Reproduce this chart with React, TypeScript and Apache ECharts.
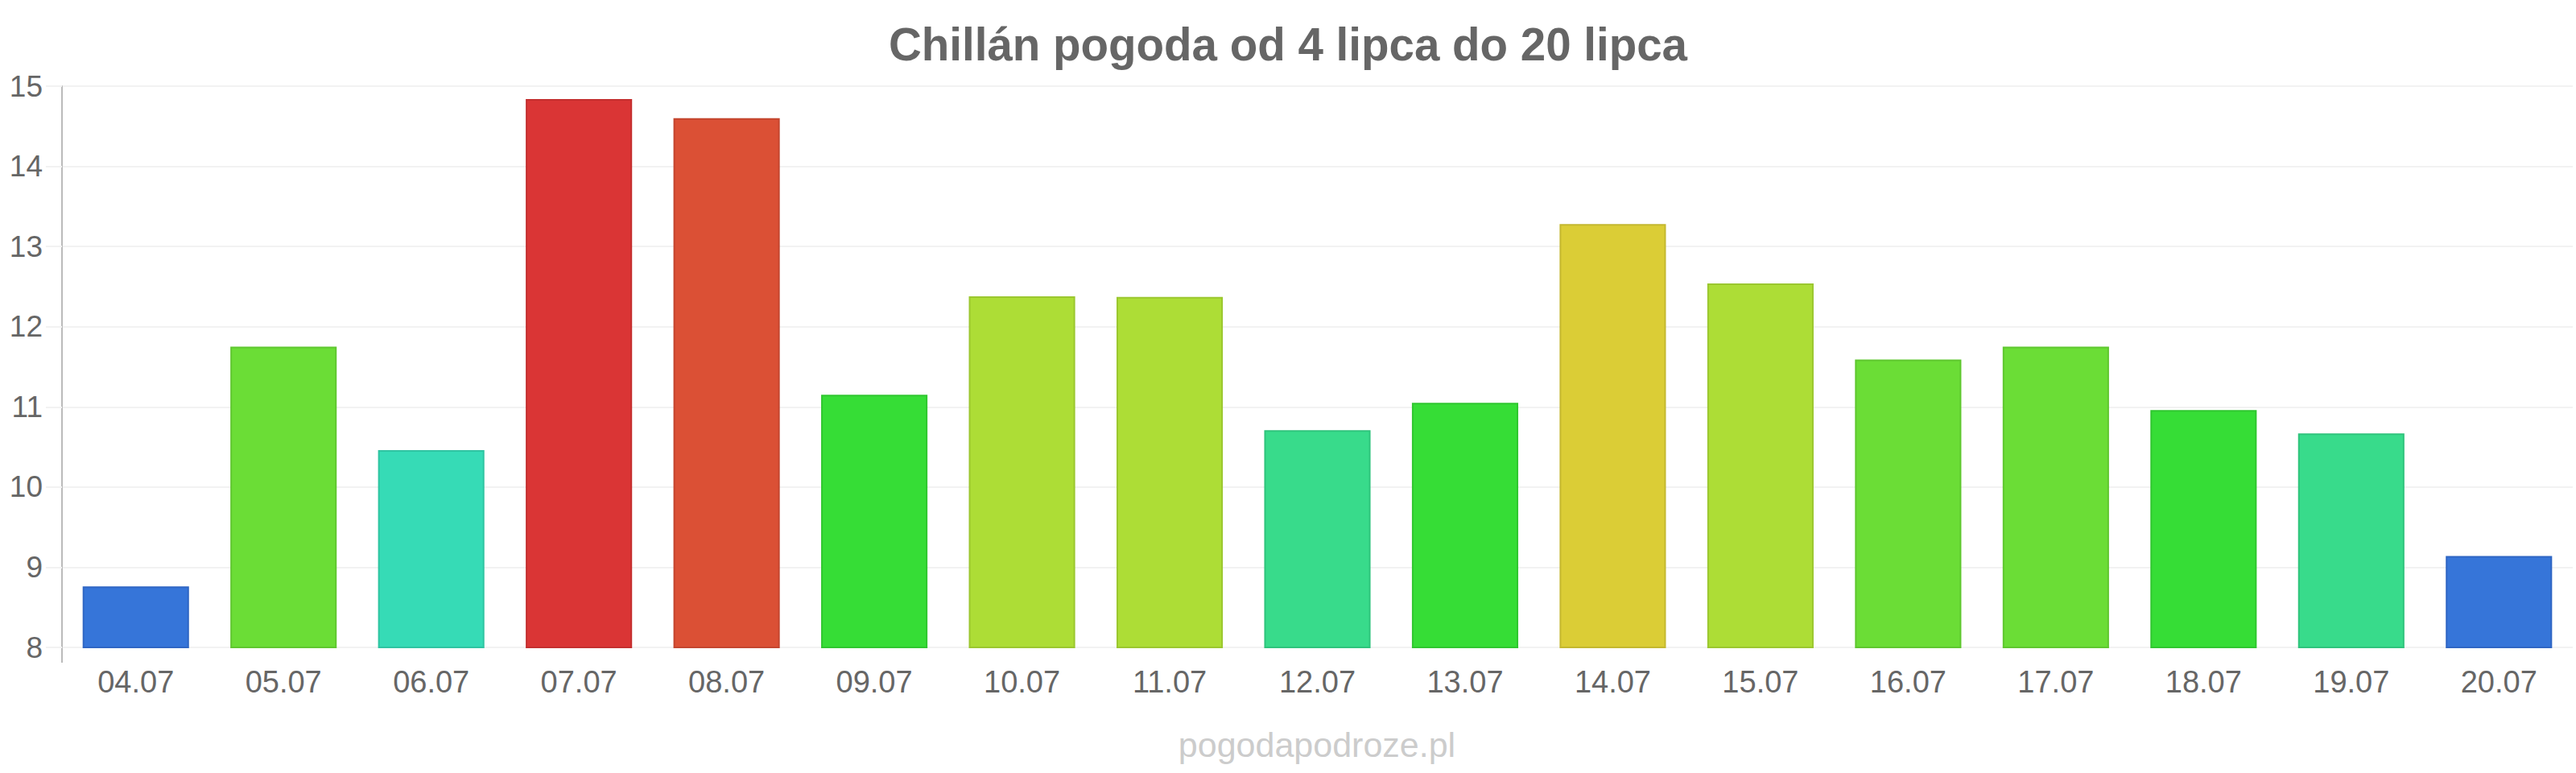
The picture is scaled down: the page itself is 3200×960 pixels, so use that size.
import React, { useEffect, useRef } from "react";
import * as echarts from "echarts";

const categories = ["04.07", "05.07", "06.07", "07.07", "08.07", "09.07", "10.07", "11.07", "12.07", "13.07", "14.07", "15.07", "16.07", "17.07", "18.07", "19.07", "20.07"];
const temperatures = [8.76, 11.75, 10.46, 14.84, 14.6, 11.15, 12.38, 12.37, 10.71, 11.05, 13.28, 12.54, 11.59, 11.75, 10.96, 10.67, 9.14];
const barColors = ["#3675d9", "#6bdd36", "#36dbb6", "#da3535", "#db5035", "#36dd36", "#addd36", "#addd36", "#38db8b", "#36dd36", "#dbcd36", "#addd36", "#6bdd36", "#6bdd36", "#36dd36", "#38db8b", "#3675d9"];
const borderColors = ["#2f66c4", "#5fc72f", "#2fc4a2", "#c42f2f", "#c4462f", "#2fc72f", "#9bc72f", "#9bc72f", "#2fc47c", "#2fc72f", "#c4b82f", "#9bc72f", "#5fc72f", "#5fc72f", "#2fc72f", "#2fc47c", "#2f66c4"];
const yTicks = { min: 8, max: 15, interval: 1 };
const titleText = "Chillán pogoda od 4 lipca do 20 lipca";
const watermark = "pogodapodroze.pl";

const FONT = "'Liberation Sans', Arial, Helvetica, sans-serif";
const GRID = { left: 77, right: 4, top: 107, bottom: 156 };

export default function App() {
  const ref = useRef<HTMLDivElement>(null);
  useEffect(() => {
    document.body.style.margin = "0";
    const chart = echarts.init(ref.current!, null, { renderer: "svg" });
    const plotBottom = 960 - GRID.bottom;
    chart.setOption({
      animation: false,
      backgroundColor: "#ffffff",
      title: {
        text: titleText,
        left: "center",
        top: 22,
        textStyle: { fontFamily: FONT, fontSize: 56.5, fontWeight: "bold", color: "#666666" },
      },
      grid: { ...GRID, containLabel: false },
      xAxis: {
        type: "category",
        data: categories,
        axisLine: { show: false },
        axisTick: { show: false },
        splitLine: { show: false },
        axisLabel: { fontFamily: FONT, fontSize: 38, color: "#666666", margin: 24 },
      },
      yAxis: {
        type: "value",
        min: yTicks.min,
        max: yTicks.max,
        interval: yTicks.interval,
        axisLine: { show: true, lineStyle: { color: "#bbbbbb", width: 2 } },
        axisTick: { show: true, length: 20, lineStyle: { color: "#f2f2f2", width: 2 } },
        splitLine: { show: true, lineStyle: { color: "#f2f2f2", width: 2 } },
        axisLabel: { fontFamily: FONT, fontSize: 37, color: "#666666", margin: 24 },
      },
      graphic: [
        {
          type: "line",
          shape: { x1: GRID.left, y1: plotBottom, x2: GRID.left, y2: plotBottom + 19 },
          style: { stroke: "#bbbbbb", lineWidth: 2 },
        },
        {
          type: "text",
          x: 1636,
          y: 925,
          style: {
            text: watermark,
            fontFamily: FONT,
            fontSize: 43,
            fill: "#cccccc",
            textAlign: "center",
            textVerticalAlign: "middle",
          },
        },
      ],
      series: [
        {
          type: "bar",
          barCategoryGap: "28%",
          data: temperatures.map((v, i) => ({
            value: v,
            itemStyle: { color: barColors[i], borderColor: borderColors[i], borderWidth: 2 },
          })),
        },
      ],
    });
    return () => chart.dispose();
  }, []);
  return <div ref={ref} style={{ width: 3200, height: 960 }} />;
}
